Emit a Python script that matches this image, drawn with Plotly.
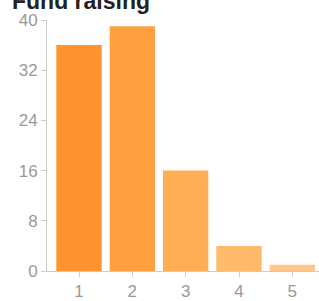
import plotly.graph_objects as go

categories = [1, 2, 3, 4, 5]
values = [36, 39, 16, 4, 1]
colors = ["#FF9330", "#FFA040", "#FFAE55", "#FFBB6A", "#FFC888"]
y_ticks = [0, 8, 16, 24, 32, 40]

fig = go.Figure(go.Bar(x=categories, y=values, marker=dict(color=colors, line=dict(width=0)),
                       width=0.85))

W, H = 319, 301
fig.update_layout(
    width=W, height=H,
    margin=dict(l=47, r=0, t=20, b=30),
    plot_bgcolor="white", paper_bgcolor="white",
    showlegend=False,
    font=dict(family="Liberation Sans, Arial", color="#999999", size=17),
    title=dict(text="<b>Fund raising</b>", x=12 / W, xanchor="left", xref="container",
               y=1 - 1 / H, yanchor="middle", yref="container",
               font=dict(size=23, color="#222222", family="Liberation Sans, Arial")),
)
fig.update_xaxes(range=[0.4, 5.5], tickvals=categories, ticks="outside", ticklen=5,
                 tickcolor="#cccccc", showline=True, linecolor="#cccccc", linewidth=1,
                 showgrid=False, zeroline=False, fixedrange=True)
fig.update_yaxes(range=[0, 40], tickvals=y_ticks, ticks="outside", ticklen=5,
                 tickcolor="#cccccc", showline=True, linecolor="#cccccc", linewidth=1,
                 showgrid=False, zeroline=False, fixedrange=True)

fig.write_html("out.html", config={"displayModeBar": False},
               post_script="document.body.style.margin='0';document.body.style.overflow='hidden';")
